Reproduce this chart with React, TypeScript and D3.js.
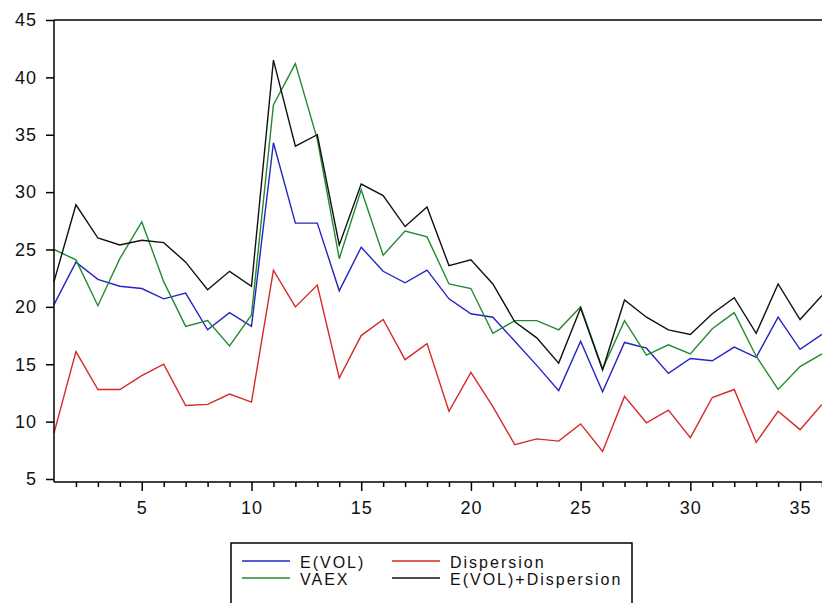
import { useEffect, useRef } from "react";
import * as d3 from "d3";

const periods = d3.range(1, 37);

const eVol = [20.2, 23.9, 22.4, 21.8, 21.6, 20.7, 21.2, 18.0, 19.5, 18.3,
  34.3, 27.3, 27.3, 21.4, 25.2, 23.1, 22.1, 23.2, 20.7, 19.4,
  19.1, 17.0, 14.9, 12.7, 17.0, 12.6, 16.9, 16.4, 14.2, 15.5,
  15.3, 16.5, 15.6, 19.1, 16.3, 17.6];

const vaex = [25.0, 24.1, 20.1, 24.2, 27.4, 22.2, 18.3, 18.8, 16.6, 19.3,
  37.6, 41.2, 34.6, 24.2, 30.2, 24.5, 26.6, 26.1, 22.0, 21.6,
  17.7, 18.8, 18.8, 18.0, 20.0, 14.6, 18.8, 15.8, 16.7, 15.9,
  18.1, 19.5, 15.7, 12.8, 14.8, 15.9];

const dispersion = [9.0, 16.1, 12.8, 12.8, 14.0, 15.0, 11.4, 11.5, 12.4, 11.7,
  23.2, 20.0, 21.9, 13.8, 17.5, 18.9, 15.4, 16.8, 10.9, 14.3,
  11.3, 8.0, 8.5, 8.3, 9.8, 7.4, 12.2, 9.9, 11.0, 8.6,
  12.1, 12.8, 8.2, 10.9, 9.3, 11.5];

const eVolPlusDisp = [22.2, 28.9, 26.0, 25.4, 25.8, 25.6, 23.9, 21.5, 23.1, 21.8,
  41.5, 34.0, 35.0, 25.4, 30.7, 29.7, 27.0, 28.7, 23.6, 24.1,
  22.0, 18.7, 17.3, 15.1, 19.9, 14.5, 20.6, 19.1, 18.0, 17.6,
  19.4, 20.8, 17.7, 22.0, 18.9, 21.0];

const yTicks = [5, 10, 15, 20, 25, 30, 35, 40, 45];
const xMajor = [5, 10, 15, 20, 25, 30, 35];

const series = [
  { name: "E(VOL)", values: eVol, color: "#2424c4" },
  { name: "VAEX", values: vaex, color: "#238a2e" },
  { name: "Dispersion", values: dispersion, color: "#d42a2a" },
  { name: "E(VOL)+Dispersion", values: eVolPlusDisp, color: "#111111" },
];

export default function App() {
  const ref = useRef<SVGSVGElement>(null);

  useEffect(() => {
    const svg = d3.select(ref.current);
    svg.selectAll("*").remove();

    const width = 822, height = 603;
    const left = 54, right = 822, top = 20, bottom = 482;
    const font = "'Liberation Sans', Arial, sans-serif";

    const x = d3.scaleLinear().domain([1, 36]).range([left, right]);
    const y = d3.scaleLinear().domain([5, 45]).range([479, top]);

    svg.attr("width", width).attr("height", height);
    svg.append("rect").attr("width", width).attr("height", height).attr("fill", "#fff");

    // lines
    const line = d3.line<number>()
      .x((d, i) => x(periods[i]))
      .y(d => y(d));

    series.forEach(s => {
      svg.append("path")
        .datum(s.values)
        .attr("fill", "none")
        .attr("stroke", s.color)
        .attr("stroke-width", 1.4)
        .attr("d", line);
    });

    // frame
    svg.append("line").attr("x1", left).attr("x2", right).attr("y1", top).attr("y2", top)
      .attr("stroke", "#000").attr("stroke-width", 1.5);
    svg.append("line").attr("x1", left).attr("x2", left).attr("y1", top).attr("y2", bottom)
      .attr("stroke", "#000").attr("stroke-width", 1.5);
    svg.append("line").attr("x1", left).attr("x2", right).attr("y1", bottom).attr("y2", bottom)
      .attr("stroke", "#000").attr("stroke-width", 1.5);

    // y axis
    const yAxis = svg.append("g")
      .attr("transform", "translate(" + left + ",0)")
      .call(d3.axisLeft(y).tickValues(yTicks).tickSize(8).tickPadding(9).tickFormat(d3.format("d")));
    yAxis.select(".domain").remove();
    yAxis.selectAll("line").attr("stroke", "#000").attr("stroke-width", 1.5);
    yAxis.selectAll("text").attr("font-family", font).attr("font-size", 18)
      .attr("letter-spacing", 1).attr("fill", "#111");

    // x axis, minor ticks
    const xAxisMinor = svg.append("g")
      .attr("transform", "translate(0," + bottom + ")")
      .call(d3.axisBottom(x).tickValues(d3.range(2, 37).filter(d => d % 5 != 0)).tickSize(5).tickFormat(() => ""));
    xAxisMinor.select(".domain").remove();
    xAxisMinor.selectAll("line").attr("stroke", "#000").attr("stroke-width", 1.5);

    const xAxis = svg.append("g")
      .attr("transform", "translate(0," + bottom + ")")
      .call(d3.axisBottom(x).tickValues(xMajor).tickSize(9).tickPadding(10).tickFormat(d3.format("d")));
    xAxis.select(".domain").remove();
    xAxis.selectAll("line").attr("stroke", "#000").attr("stroke-width", 1.5);
    xAxis.selectAll("text").attr("font-family", font).attr("font-size", 18)
      .attr("letter-spacing", 1).attr("fill", "#111");

    // legend
    const lg = svg.append("g");
    lg.append("rect").attr("x", 231).attr("y", 543).attr("width", 401).attr("height", 80)
      .attr("fill", "#fff").attr("stroke", "#000").attr("stroke-width", 1.5);
    const legendItems = [
      { s: series[0], col: 0, row: 0 },
      { s: series[2], col: 1, row: 0 },
      { s: series[1], col: 0, row: 1 },
      { s: series[3], col: 1, row: 1 },
    ];
    legendItems.forEach(it => {
      const lx = it.col == 0 ? 242 : 392;
      const ly = 562 + it.row * 17;
      lg.append("line").attr("x1", lx).attr("x2", lx + 48).attr("y1", ly - 1).attr("y2", ly - 1)
        .attr("stroke", it.s.color).attr("stroke-width", 1.4);
      lg.append("text").attr("x", lx + 58).attr("y", ly).attr("dy", "0.35em")
        .attr("font-family", font).attr("font-size", 16).attr("letter-spacing", 2)
        .attr("fill", "#111")
        .text(it.s.name);
    });
  }, []);

  return (
    <div style={{ position: "absolute", left: 0, top: 0 }}>
      <svg ref={ref} />
    </div>
  );
}
